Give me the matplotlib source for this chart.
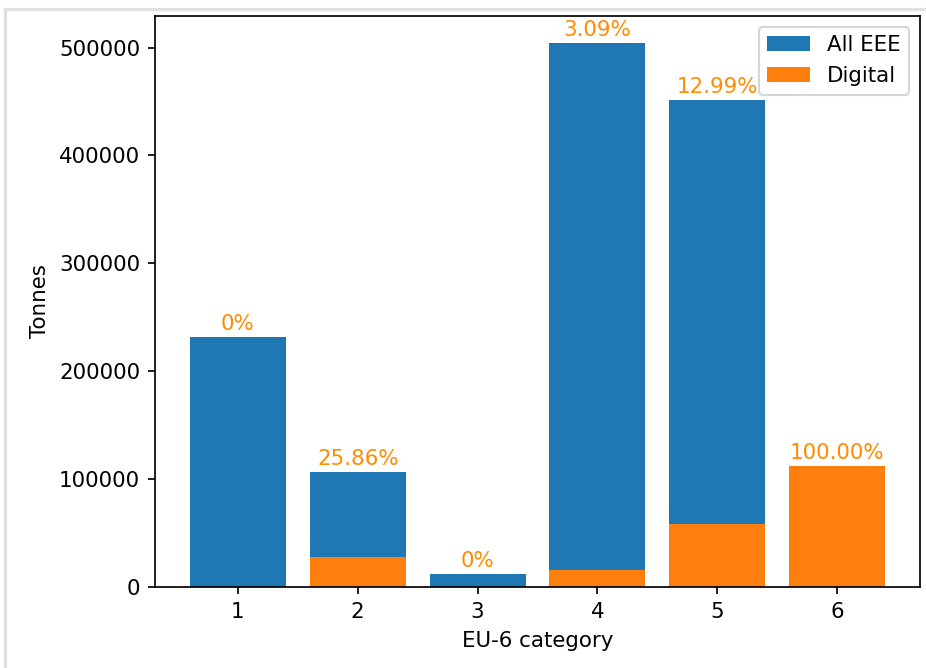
import matplotlib.pyplot as plt
import numpy as np
from matplotlib.lines import Line2D

# EU-6 categories and tonnage
categories = [1, 2, 3, 4, 5, 6]
all_eee = [232000, 106700, 12100, 504000, 451800, 112300]
digital_share = [0, 25.86, 0, 3.09, 12.99, 100.00]
share_labels = ["0%", "25.86%", "0%", "3.09%", "12.99%", "100.00%"]

digital = [t * s / 100 for t, s in zip(all_eee, digital_share)]

dpi = 154
fig = plt.figure(figsize=(926 / dpi, 668 / dpi), dpi=dpi)
ax = fig.add_axes([155 / 926, 1 - 587 / 668, 765 / 926, 571 / 668])

ax.bar(categories, all_eee, label="All EEE")
ax.bar(categories, digital, label="Digital")

# percentage labels above each bar
for x, top, lab in zip(categories, all_eee, share_labels):
    ax.text(x, top + 2500, lab, ha="center", va="bottom", color="darkorange", fontsize=10)

ax.set_xlabel("EU-6 category")
ax.set_ylabel("Tonnes")
ax.legend(loc="upper right")

# screenshot frame edges
fig.add_artist(Line2D([5 / 926, 1], [1 - 9 / 668, 1 - 9 / 668], color="#e0e0e0", lw=1.5))
fig.add_artist(Line2D([5 / 926, 5 / 926], [0, 1 - 9 / 668], color="#e0e0e0", lw=1.5))

fig.savefig("out.png", dpi=dpi)
